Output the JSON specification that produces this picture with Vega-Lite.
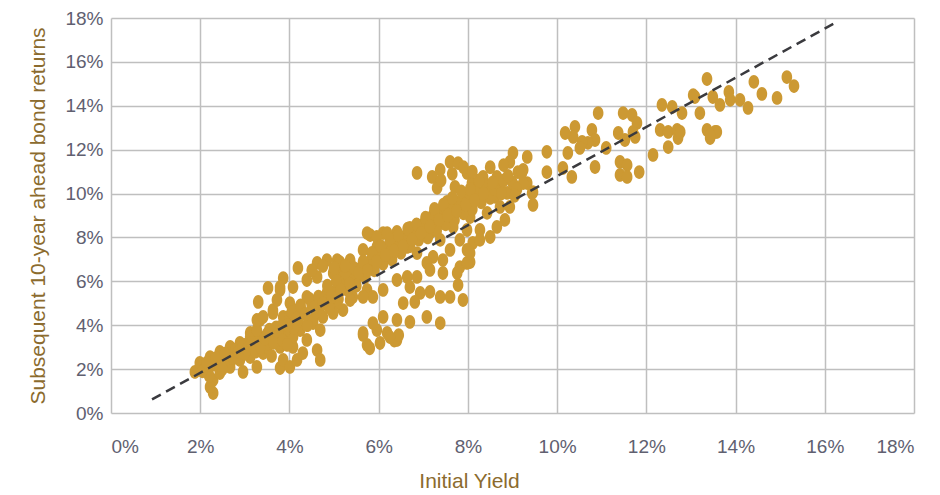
{
  "$schema": "https://vega.github.io/schema/vega-lite/v6.json",
  "width": 803,
  "height": 395,
  "autosize": {"type": "none"},
  "padding": {"left": 111, "top": 18, "right": 26, "bottom": 82},
  "background": "white",
  "config": {
    "view": {"stroke": null},
    "font": "Liberation Sans",
    "axis": {
      "grid": true,
      "gridColor": "#BFBFBF",
      "gridWidth": 1.5,
      "domain": false,
      "ticks": false,
      "tickSize": 0,
      "labelFontSize": 19,
      "labelColor": "#606070",
      "titleFontSize": 21,
      "titleFontWeight": "normal",
      "titleColor": "#8B6B2E"
    }
  },
  "datasets": {
    "points": [
      {"x":13.36,"y":15.22},{"x":13.05,"y":14.49},{"x":13.49,"y":14.40},{"x":13.20,"y":13.67},{"x":12.80,"y":13.67},{"x":12.58,"y":13.95},{"x":12.35,"y":14.04},{"x":12.31,"y":12.90},{"x":12.49,"y":12.81},{"x":12.69,"y":12.90},{"x":12.71,"y":12.53},{"x":12.49,"y":12.12},{"x":12.15,"y":11.76},{"x":13.36,"y":12.90},{"x":13.43,"y":12.53},{"x":13.58,"y":12.81},{"x":11.48,"y":13.67},{"x":11.68,"y":13.58},{"x":11.79,"y":13.22},{"x":11.70,"y":12.81},{"x":11.75,"y":12.58},{"x":11.37,"y":12.76},{"x":11.52,"y":12.44},{"x":11.10,"y":12.08},{"x":10.92,"y":13.67},{"x":10.78,"y":12.90},{"x":10.85,"y":12.44},{"x":10.69,"y":12.31},{"x":10.56,"y":12.35},{"x":10.40,"y":13.04},{"x":10.36,"y":12.58},{"x":10.18,"y":12.76},{"x":10.24,"y":11.85},{"x":10.51,"y":12.08},{"x":10.85,"y":11.21},{"x":11.41,"y":11.44},{"x":11.57,"y":11.30},{"x":11.41,"y":10.85},{"x":11.57,"y":10.76},{"x":11.84,"y":10.98},{"x":10.13,"y":11.17},{"x":10.33,"y":10.76},{"x":9.77,"y":11.90},{"x":9.77,"y":10.98},{"x":9.33,"y":11.67},{"x":9.24,"y":11.08},{"x":9.33,"y":10.48},{"x":9.46,"y":10.07},{"x":14.41,"y":15.09},{"x":14.59,"y":14.54},{"x":15.15,"y":15.31},{"x":15.31,"y":14.90},{"x":14.93,"y":14.36},{"x":13.85,"y":14.63},{"x":13.88,"y":14.27},{"x":14.10,"y":14.27},{"x":14.28,"y":13.90},{"x":13.65,"y":14.04},{"x":13.09,"y":14.40},{"x":13.54,"y":12.81},{"x":12.76,"y":12.81},{"x":13.43,"y":12.66},
      {"x":6.86,"y":10.94},{"x":9.01,"y":11.85},{"x":8.94,"y":11.44},{"x":9.12,"y":10.98},{"x":9.46,"y":9.48},{"x":9.44,"y":10.03},{"x":7.20,"y":10.76},{"x":7.38,"y":11.08},{"x":7.60,"y":11.44},{"x":7.78,"y":11.39},{"x":7.31,"y":10.26},{"x":7.53,"y":9.62},{"x":7.71,"y":10.30},{"x":7.98,"y":10.94},{"x":8.09,"y":10.48},{"x":8.20,"y":9.85},{"x":8.34,"y":10.76},{"x":8.43,"y":10.30},{"x":8.65,"y":10.76},{"x":8.72,"y":10.30},{"x":8.88,"y":10.03},{"x":9.06,"y":10.30},{"x":9.24,"y":10.48},{"x":9.21,"y":10.94},{"x":8.61,"y":9.85},{"x":8.72,"y":9.39},{"x":8.94,"y":9.39},{"x":8.43,"y":9.12},{"x":8.83,"y":8.80},{"x":8.65,"y":8.48},{"x":8.50,"y":8.02},{"x":8.27,"y":8.34},{"x":8.05,"y":8.93},{"x":7.98,"y":8.34},{"x":7.76,"y":9.39},{"x":7.89,"y":9.85},{"x":7.44,"y":8.66},{"x":7.22,"y":9.02},{"x":7.67,"y":8.48},{"x":7.82,"y":7.89},{"x":8.11,"y":7.75},{"x":8.27,"y":7.89},{"x":6.93,"y":8.48},{"x":6.70,"y":8.34},{"x":6.55,"y":7.89},{"x":7.15,"y":8.20},{"x":7.38,"y":7.89},{"x":7.60,"y":7.43},{"x":7.98,"y":7.43},{"x":8.05,"y":6.88},{"x":7.82,"y":6.65},{"x":7.44,"y":6.97},{"x":7.22,"y":7.11},{"x":6.86,"y":7.29},{"x":6.64,"y":7.57},{"x":7.08,"y":6.84},
      {"x":5.81,"y":8.11},{"x":6.10,"y":8.20},{"x":6.41,"y":8.25},{"x":6.70,"y":8.43},{"x":5.65,"y":7.43},{"x":5.96,"y":7.57},{"x":6.32,"y":7.57},{"x":5.07,"y":6.97},{"x":5.36,"y":6.84},{"x":5.13,"y":6.38},{"x":5.51,"y":6.20},{"x":5.74,"y":5.61},{"x":5.20,"y":5.74},{"x":4.98,"y":5.01},{"x":5.20,"y":4.69},{"x":5.42,"y":5.29},{"x":5.87,"y":5.29},{"x":6.10,"y":5.61},{"x":6.41,"y":6.06},{"x":6.64,"y":6.20},{"x":6.86,"y":6.20},{"x":7.15,"y":6.52},{"x":7.44,"y":6.38},{"x":7.76,"y":6.38},{"x":7.98,"y":6.84},{"x":8.05,"y":7.29},{"x":7.78,"y":5.83},{"x":7.60,"y":5.29},{"x":7.38,"y":5.29},{"x":7.15,"y":5.52},{"x":6.93,"y":5.47},{"x":6.70,"y":5.74},{"x":6.55,"y":5.01},{"x":6.81,"y":5.06},{"x":7.89,"y":5.15},{"x":7.08,"y":4.38},{"x":7.38,"y":4.10},{"x":6.70,"y":4.15},{"x":6.41,"y":4.24},{"x":6.10,"y":4.38},{"x":5.96,"y":3.78},{"x":6.19,"y":3.65},{"x":5.65,"y":3.56},{"x":5.74,"y":3.10},{"x":6.41,"y":3.33},{"x":6.03,"y":3.19},{"x":5.80,"y":2.95},{"x":6.35,"y":3.30},{"x":6.45,"y":3.55},
      {"x":4.19,"y":6.61},{"x":4.62,"y":6.84},{"x":4.84,"y":6.97},{"x":5.13,"y":6.88},{"x":5.36,"y":6.97},{"x":5.74,"y":8.20},{"x":5.96,"y":8.02},{"x":6.19,"y":8.20},{"x":3.86,"y":6.15},{"x":3.52,"y":5.70},{"x":3.30,"y":5.06},{"x":3.79,"y":5.61},{"x":4.08,"y":5.74},{"x":4.39,"y":6.06},{"x":4.62,"y":6.20},{"x":4.98,"y":6.38},{"x":4.84,"y":5.47},{"x":4.39,"y":5.29},{"x":4.01,"y":5.01},{"x":3.63,"y":4.69},{"x":3.34,"y":4.24},{"x":3.12,"y":3.65},{"x":3.86,"y":4.38},{"x":4.17,"y":4.69},{"x":4.69,"y":4.83},{"x":5.07,"y":5.01},{"x":5.36,"y":5.15},{"x":5.65,"y":5.29},{"x":4.53,"y":4.10},{"x":4.24,"y":3.78},{"x":4.01,"y":3.46},{"x":4.39,"y":3.33},{"x":4.69,"y":3.78},{"x":4.08,"y":3.01},{"x":3.63,"y":3.78},{"x":3.34,"y":3.46},{"x":5.65,"y":3.65},{"x":5.87,"y":4.10},{"x":6.25,"y":3.46},
      {"x":1.88,"y":1.87},{"x":1.99,"y":2.28},{"x":2.22,"y":2.55},{"x":2.44,"y":2.78},{"x":2.67,"y":3.01},{"x":2.89,"y":3.19},{"x":3.12,"y":3.46},{"x":3.27,"y":3.78},{"x":3.27,"y":4.24},{"x":3.41,"y":4.38},{"x":3.63,"y":4.56},{"x":3.72,"y":5.15},{"x":3.79,"y":5.74},{"x":2.29,"y":1.50},{"x":2.29,"y":0.91},{"x":2.22,"y":1.19},{"x":2.44,"y":1.82},{"x":2.67,"y":2.10},{"x":2.89,"y":2.42},{"x":3.12,"y":2.55},{"x":3.41,"y":2.73},{"x":2.96,"y":1.87},{"x":3.27,"y":2.10},{"x":3.79,"y":2.05},{"x":3.86,"y":2.42},{"x":4.01,"y":2.10},{"x":4.17,"y":2.42},{"x":4.30,"y":2.73},{"x":4.62,"y":2.87},{"x":4.69,"y":2.42},{"x":3.79,"y":3.01},{"x":3.56,"y":3.33},{"x":4.08,"y":3.46},{"x":4.53,"y":4.24},{"x":4.75,"y":4.38},{"x":4.98,"y":4.56},{"x":5.07,"y":5.29},{"x":4.01,"y":4.10},{"x":3.79,"y":3.92},
      {"x":2.1,"y":2.0},{"x":2.3,"y":2.2},{"x":2.4,"y":2.3},{"x":2.6,"y":2.5},{"x":2.2,"y":1.7},{"x":2.5,"y":2.0},{"x":2.7,"y":2.7},{"x":2.8,"y":2.9},{"x":3.0,"y":2.7},{"x":3.0,"y":3.1},{"x":3.2,"y":3.0},{"x":3.3,"y":3.2},{"x":3.5,"y":3.6},{"x":3.5,"y":3.0},{"x":3.7,"y":3.5},{"x":3.7,"y":3.9},{"x":3.9,"y":3.7},{"x":4.0,"y":4.4},{"x":4.1,"y":3.9},{"x":4.2,"y":4.2},{"x":4.3,"y":4.6},{"x":4.4,"y":4.0},{"x":4.5,"y":4.9},{"x":4.6,"y":4.6},{"x":4.8,"y":5.1},{"x":4.9,"y":4.8},{"x":5.0,"y":5.5},{"x":5.1,"y":5.2},{"x":5.2,"y":6.0},{"x":5.3,"y":5.6},{"x":5.4,"y":6.3},{"x":5.5,"y":5.8},{"x":5.6,"y":6.6},{"x":5.7,"y":6.2},{"x":5.8,"y":6.9},{"x":5.9,"y":6.5},{"x":6.0,"y":7.2},{"x":6.1,"y":6.8},{"x":6.2,"y":7.5},{"x":6.3,"y":7.0},{"x":6.4,"y":7.8},{"x":6.5,"y":7.3},{"x":6.6,"y":8.0},{"x":6.7,"y":7.6},{"x":6.8,"y":8.3},{"x":6.9,"y":7.9},{"x":7.0,"y":8.6},{"x":7.1,"y":8.0},{"x":7.2,"y":8.8},{"x":7.3,"y":8.3},{"x":7.4,"y":9.1},{"x":7.5,"y":8.6},{"x":7.6,"y":9.3},{"x":7.7,"y":8.8},{"x":7.8,"y":9.6},{"x":7.9,"y":9.1},{"x":8.0,"y":9.8},{"x":8.1,"y":9.3},{"x":8.2,"y":10.1},{"x":8.3,"y":9.6},{"x":8.4,"y":10.4},{"x":8.5,"y":9.8},{"x":8.6,"y":10.2},{"x":8.8,"y":10.6},{"x":9.0,"y":10.5},{"x":9.1,"y":10.2},
      {"x":2.05,"y":1.9},{"x":2.15,"y":2.3},{"x":2.35,"y":2.5},{"x":2.55,"y":2.7},{"x":2.75,"y":2.5},{"x":2.85,"y":2.8},{"x":2.95,"y":3.0},{"x":3.05,"y":2.9},{"x":3.15,"y":3.2},{"x":3.25,"y":2.8},{"x":3.35,"y":3.0},{"x":3.45,"y":3.4},{"x":3.55,"y":3.8},{"x":3.6,"y":2.6},{"x":3.65,"y":3.2},{"x":3.75,"y":3.7},{"x":3.85,"y":3.3},{"x":3.95,"y":4.0},{"x":3.95,"y":3.1},{"x":4.05,"y":4.6},{"x":4.15,"y":4.3},{"x":4.25,"y":4.9},{"x":4.35,"y":4.5},{"x":4.45,"y":5.2},{"x":4.55,"y":4.8},{"x":4.65,"y":5.3},{"x":4.75,"y":5.0},{"x":4.85,"y":5.8},{"x":4.95,"y":5.3},{"x":5.05,"y":6.0},{"x":5.15,"y":5.6},{"x":5.25,"y":6.4},{"x":5.35,"y":5.9},{"x":5.45,"y":6.6},{"x":5.55,"y":6.4},{"x":5.65,"y":6.9},{"x":5.75,"y":6.5},{"x":5.85,"y":7.3},{"x":5.95,"y":6.9},{"x":6.05,"y":7.6},{"x":6.15,"y":7.2},{"x":6.25,"y":7.9},{"x":6.35,"y":7.4},{"x":6.45,"y":8.1},{"x":6.55,"y":7.6},{"x":6.65,"y":8.4},{"x":6.75,"y":7.9},{"x":6.85,"y":8.6},{"x":6.95,"y":8.2},{"x":7.05,"y":8.9},{"x":7.15,"y":8.5},{"x":7.25,"y":9.3},{"x":7.35,"y":8.8},{"x":7.45,"y":9.5},{"x":7.55,"y":9.0},{"x":7.65,"y":9.8},{"x":7.75,"y":9.2},{"x":7.85,"y":10.1},{"x":7.95,"y":9.5},{"x":8.05,"y":10.2},{"x":8.15,"y":9.7},{"x":8.25,"y":10.6},{"x":8.35,"y":10.0},{"x":8.55,"y":10.5},{"x":8.75,"y":10.0},{"x":8.9,"y":10.8},{"x":9.05,"y":9.9},
      {"x":7.4,"y":10.6},{"x":7.9,"y":11.2},{"x":8.1,"y":11.0},{"x":7.65,"y":10.9},{"x":8.5,"y":11.2},{"x":8.8,"y":11.3},{"x":4.5,"y":6.5},{"x":4.75,"y":6.7},{"x":5.0,"y":6.6},{"x":5.25,"y":6.7}
    ],
    "fit": [
      {"x": 0.92, "y": 0.62},
      {"x": 16.19, "y": 17.73}
    ]
  },
  "layer": [
    {
      "data": {"name": "points"},
      "mark": {
        "type": "point",
        "filled": true,
        "shape": "M 0 -1 C 0.4253 -1 0.77 -0.5523 0.77 0 C 0.77 0.5523 0.4253 1 0 1 C -0.4253 1 -0.77 0.5523 -0.77 0 C -0.77 -0.5523 -0.4253 -1 0 -1 Z",
        "size": 190,
        "color": "#CC9933",
        "opacity": 1
      },
      "encoding": {
        "x": {
          "field": "x",
          "type": "quantitative",
          "scale": {"domain": [0, 18], "nice": false, "zero": false},
          "axis": {
            "values": [0, 2, 4, 6, 8, 10, 12, 14, 16, 18],
            "labelExpr": "datum.value + '%'",
            "labelPadding": 24,
            "title": "Initial Yield",
            "titlePadding": 14,
            "titleX": 358
          }
        },
        "y": {
          "field": "y",
          "type": "quantitative",
          "scale": {"domain": [0, 18], "nice": false, "zero": false},
          "axis": {
            "values": [0, 2, 4, 6, 8, 10, 12, 14, 16, 18],
            "labelExpr": "datum.value + '%'",
            "labelPadding": 8,
            "title": "Subsequent 10-year ahead bond returns",
            "titlePadding": 16
          }
        }
      }
    },
    {
      "data": {"name": "fit"},
      "mark": {"type": "line", "color": "#3a3a3e", "strokeWidth": 2.5, "strokeDash": [10, 6]},
      "encoding": {
        "x": {"field": "x", "type": "quantitative"},
        "y": {"field": "y", "type": "quantitative"}
      }
    }
  ]
}
